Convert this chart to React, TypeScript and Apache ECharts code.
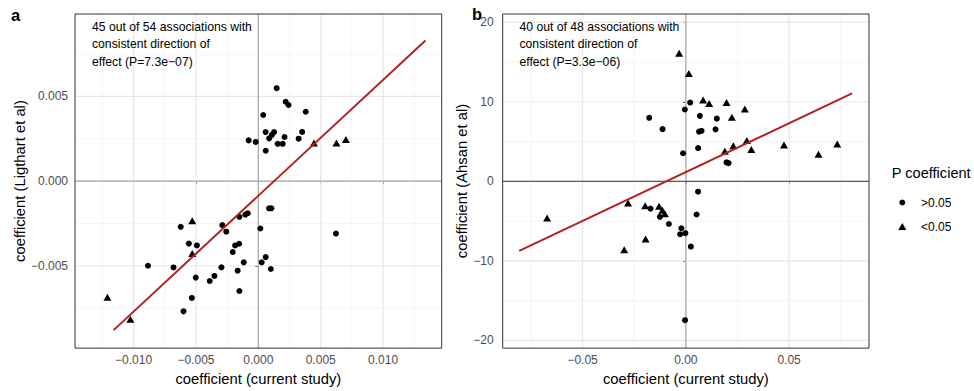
import React, { useEffect, useRef } from "react";
import * as echarts from "echarts";

// ---------- Panel a data (x: current study, y: Ligthart et al) ----------
const aCircles: number[][] = [
  [0.00147, 0.00548], [0.00219, 0.00468], [0.00242, 0.00449], [0.0038, 0.00409],
  [0.00039, 0.0039], [0.00058, 0.00289], [0.00126, 0.00289], [0.00108, 0.00272],
  [0.00087, 0.00252], [0.0021, 0.0026], [0.00351, 0.0029], [0.00323, 0.0025],
  [-0.00078, 0.0024], [-0.00021, 0.00231], [0.00155, 0.0022], [0.00195, 0.0022],
  [0.00059, 0.00179],
  [0.00104, -0.00161], [0.00086, -0.00161], [-0.00085, -0.0019], [-0.00104, -0.00198],
  [-0.00152, -0.00211], [-0.00289, -0.0026], [-0.00257, -0.00299], [0.00016, -0.0028],
  [-0.00186, -0.0038], [-0.00154, -0.0037], [-0.00205, -0.00419], [0.00059, -0.00449],
  [-0.00117, -0.0048], [0.00027, -0.0048], [-0.00296, -0.00509], [-0.00166, -0.00529],
  [0.001, -0.00519], [-0.00352, -0.0056], [-0.0039, -0.0059], [-0.00152, -0.00649],
  [-0.00622, -0.0027], [-0.00557, -0.00369], [-0.00493, -0.0038], [-0.00885, -0.005],
  [-0.0068, -0.0051], [-0.00502, -0.0057], [-0.00533, -0.0069], [-0.006, -0.00769],
  [0.00622, -0.0031],
];
const aTriangles: number[][] = [
  [0.00446, 0.00224], [0.00626, 0.00224], [0.00702, 0.00245],
  [-0.0053, -0.00234], [-0.0053, -0.00427], [-0.0121, -0.00686], [-0.01026, -0.00815],
];
const aFit: number[][] = [[-0.0116, -0.0088], [0.0134, 0.0083]];

// ---------- Panel b data (x: current study, y: Ahsan et al) ----------
const bCircles: number[][] = [
  [0.00208, 9.9], [-0.00048, 9.03], [-0.01776, 7.98], [0.00678, 8.23], [0.015, 7.88],
  [-0.01128, 6.56], [0.00639, 6.25], [0.0076, 6.35], [0.01438, 6.53], [-0.00136, 3.53],
  [0.00595, 4.17], [0.0197, 2.38], [0.0207, 2.29],
  [0.0059, -1.3], [0.00518, -4.17], [-0.01709, -3.43], [-0.01258, -4.46], [-0.00823, -5.36],
  [-0.00218, -5.9], [-0.00276, -6.65], [-0.00024, -6.52], [0.00242, -8.21], [-0.00039, -17.45],
];
const bTriangles: number[][] = [
  [-0.00324, 16.09], [0.00145, 13.55], [0.00837, 10.21], [0.01128, 9.78], [0.0197, 9.9],
  [0.02856, 9.1], [0.02227, 8.04], [0.01888, 3.77], [0.02299, 4.46], [0.02953, 5.14],
  [0.0317, 4.0], [0.04753, 4.58], [0.06423, 3.4], [0.07333, 4.7],
  [-0.02798, -2.72], [-0.06718, -4.62], [-0.0197, -3.07], [-0.01297, -3.13],
  [-0.01137, -3.65], [-0.01016, -4.08], [-0.01951, -7.26], [-0.02986, -8.61],
];
const bFit: number[][] = [[-0.0807, -8.75], [0.0805, 11.05]];

// ---------- Axes ----------
const aXRange = [-0.0147, 0.0147];
const aYRange = [-0.00986, 0.00986];
const bXRange = [-0.0887, 0.0887];
const bYRange = [-20.96, 21.03];

const aXTicks = [-0.01, -0.005, 0, 0.005, 0.01];
const aYTicks = [-0.005, 0, 0.005];
const aXMinor = [-0.0125, -0.0075, -0.0025, 0.0025, 0.0075, 0.0125];
const aYMinor = [-0.0075, -0.0025, 0.0025, 0.0075];
const bXTicks = [-0.05, 0, 0.05];
const bYTicks = [-20, -10, 0, 10, 20];
const bXMinor = [-0.075, -0.025, 0.025, 0.075];
const bYMinor = [-15, -5, 5, 15];

const legendLabels = [">0.05", "<0.05"];
const annotA = ["45 out of 54 associations with", "consistent direction of", "effect (P=7.3e\u221207)"];
const annotB = ["40 out of 48 associations with", "consistent direction of", "effect (P=3.3e\u221206)"];

const FONT = "'Liberation Sans', Arial, Helvetica, sans-serif";
const fmt = (d: number) => (v: number) => {
  const s = Math.abs(v) < 1e-12 ? (0).toFixed(d) : v.toFixed(d);
  return s.replace("-", "\u2212");
};

function vline(gi: number, x: number, yr: number[], color: string, width: number, z: number) {
  return {
    type: "line", xAxisIndex: gi, yAxisIndex: gi, data: [[x, yr[0]], [x, yr[1]]],
    symbol: "none", silent: true, z, lineStyle: { color, width }, animation: false,
  };
}
function hline(gi: number, y: number, xr: number[], color: string, width: number, z: number) {
  return {
    type: "line", xAxisIndex: gi, yAxisIndex: gi, data: [[xr[0], y], [xr[1], y]],
    symbol: "none", silent: true, z, lineStyle: { color, width }, animation: false,
  };
}

function gridSeries(gi: number, xr: number[], yr: number[], xt: number[], yt: number[], xm: number[], ym: number[], hZeroColor: string) {
  const s: any[] = [];
  xm.forEach((v) => s.push(vline(gi, v, yr, "#f3f3f3", 0.8, 1)));
  ym.forEach((v) => s.push(hline(gi, v, xr, "#f3f3f3", 0.8, 1)));
  xt.forEach((v) => s.push(vline(gi, v, yr, "#e8e8e8", 1.2, 1)));
  yt.forEach((v) => s.push(hline(gi, v, xr, "#e8e8e8", 1.2, 1)));
  s.push(vline(gi, 0, yr, "#a8a8a8", 1.2, 2));
  s.push(hline(gi, 0, xr, hZeroColor, 1.2, 2));
  return s;
}

function axisX(gi: number, r: number[], ticks: number[], d: number) {
  return {
    type: "value", gridIndex: gi, min: r[0], max: r[1],
    name: "coefficient (current study)", nameLocation: "middle", nameGap: 21,
    nameTextStyle: { fontFamily: FONT, fontSize: 14.8, color: "#000" },
    axisLine: { show: false }, splitLine: { show: false },
    axisTick: { show: true, length: 3, customValues: ticks, lineStyle: { color: "#333", width: 1 } },
    axisLabel: { customValues: ticks, formatter: fmt(d), fontFamily: FONT, fontSize: 12, color: "#4d4d4d", margin: 6 },
  };
}
function axisY(gi: number, r: number[], ticks: number[], d: number, name: string, gap: number, margin: number) {
  return {
    type: "value", gridIndex: gi, min: r[0], max: r[1],
    name, nameLocation: "middle", nameGap: gap,
    nameTextStyle: { fontFamily: FONT, fontSize: 14.8, color: "#000" },
    axisLine: { show: false }, splitLine: { show: false },
    axisTick: { show: true, length: 3, customValues: ticks, lineStyle: { color: "#333", width: 1 } },
    axisLabel: { customValues: ticks, formatter: fmt(d), fontFamily: FONT, fontSize: 12, color: "#4d4d4d", margin },
  };
}

export default function App() {
  const ref = useRef<HTMLDivElement>(null);
  useEffect(() => {
    document.body.style.margin = "0";
    if (!ref.current) return;
    const chart = echarts.init(ref.current, null, { renderer: "svg" });
    const pointStyle = { color: "#000", opacity: 1 };
    const series: any[] = [
      ...gridSeries(0, aXRange, aYRange, aXTicks, aYTicks, aXMinor, aYMinor, "#a8a8a8"),
      ...gridSeries(1, bXRange, bYRange, bXTicks, bYTicks, bXMinor, bYMinor, "#5a5a5a"),
      { name: legendLabels[0], type: "scatter", xAxisIndex: 0, yAxisIndex: 0, data: aCircles, symbol: "circle", symbolSize: 6, itemStyle: pointStyle, z: 3 },
      { name: legendLabels[1], type: "scatter", xAxisIndex: 0, yAxisIndex: 0, data: aTriangles, symbol: "triangle", symbolSize: [8, 7], itemStyle: pointStyle, z: 3 },
      { name: legendLabels[0], type: "scatter", xAxisIndex: 1, yAxisIndex: 1, data: bCircles, symbol: "circle", symbolSize: 6, itemStyle: pointStyle, z: 3 },
      { name: legendLabels[1], type: "scatter", xAxisIndex: 1, yAxisIndex: 1, data: bTriangles, symbol: "triangle", symbolSize: [8, 7], itemStyle: pointStyle, z: 3 },
      { type: "line", xAxisIndex: 0, yAxisIndex: 0, data: aFit, symbol: "none", silent: true, z: 4, lineStyle: { color: "#b22222", width: 2 } },
      { type: "line", xAxisIndex: 1, yAxisIndex: 1, data: bFit, symbol: "none", silent: true, z: 4, lineStyle: { color: "#b22222", width: 2 } },
    ];
    const textStyle = (t: string, size: number, weight = "normal") => ({
      text: t, fontFamily: FONT, fontSize: size, fontWeight: weight, fill: "#000",
    });
    chart.setOption({
      animation: false,
      backgroundColor: "#fff",
      grid: [
        { left: 75, right: 532.3, top: 14, bottom: 38, show: true, borderColor: "#333", borderWidth: 1, backgroundColor: "transparent", z: 5 },
        { left: 502.7, right: 105, top: 14, bottom: 37.7, show: true, borderColor: "#333", borderWidth: 1, backgroundColor: "transparent", z: 5 },
      ],
      xAxis: [axisX(0, aXRange, aXTicks, 3), axisX(1, bXRange, bXTicks, 2)],
      yAxis: [
        axisY(0, aYRange, aYTicks, 3, "coefficient (Ligthart et al)", 46, 7),
        axisY(1, bYRange, bYTicks, 0, "coefficient (Ahsan et al)", 27, 9),
      ],
      series,
      graphic: [
        { type: "text", left: 11, top: 6, z: 20, style: textStyle("a", 16.5, "bold") },
        { type: "text", left: 472, top: 5, z: 20, style: textStyle("b", 16.5, "bold") },
        { type: "text", x: 92, y: 18.5, z: 20, style: { ...textStyle(annotA.join("\n"), 12.2), lineHeight: 17.3, verticalAlign: "top" } },
        { type: "text", x: 519.5, y: 18.5, z: 20, style: { ...textStyle(annotB.join("\n"), 12.2), lineHeight: 17.3, verticalAlign: "top" } },
        { type: "text", x: 891.7, y: 173.3, z: 20, style: { ...textStyle("P coefficient", 14.6), verticalAlign: "middle" } },
        { type: "circle", z: 20, shape: { cx: 902.3, cy: 202.5, r: 3 }, style: { fill: "#000" } },
        { type: "polygon", z: 20, shape: { points: [[898.3, 230], [906.3, 230], [902.3, 223]] }, style: { fill: "#000" } },
        { type: "text", x: 921, y: 202.7, z: 20, style: { ...textStyle(legendLabels[0], 12), verticalAlign: "middle" } },
        { type: "text", x: 921, y: 226.7, z: 20, style: { ...textStyle(legendLabels[1], 12), verticalAlign: "middle" } },
      ],
    });
    return () => chart.dispose();
  }, []);
  return <div ref={ref} style={{ width: 974, height: 391 }} />;
}
